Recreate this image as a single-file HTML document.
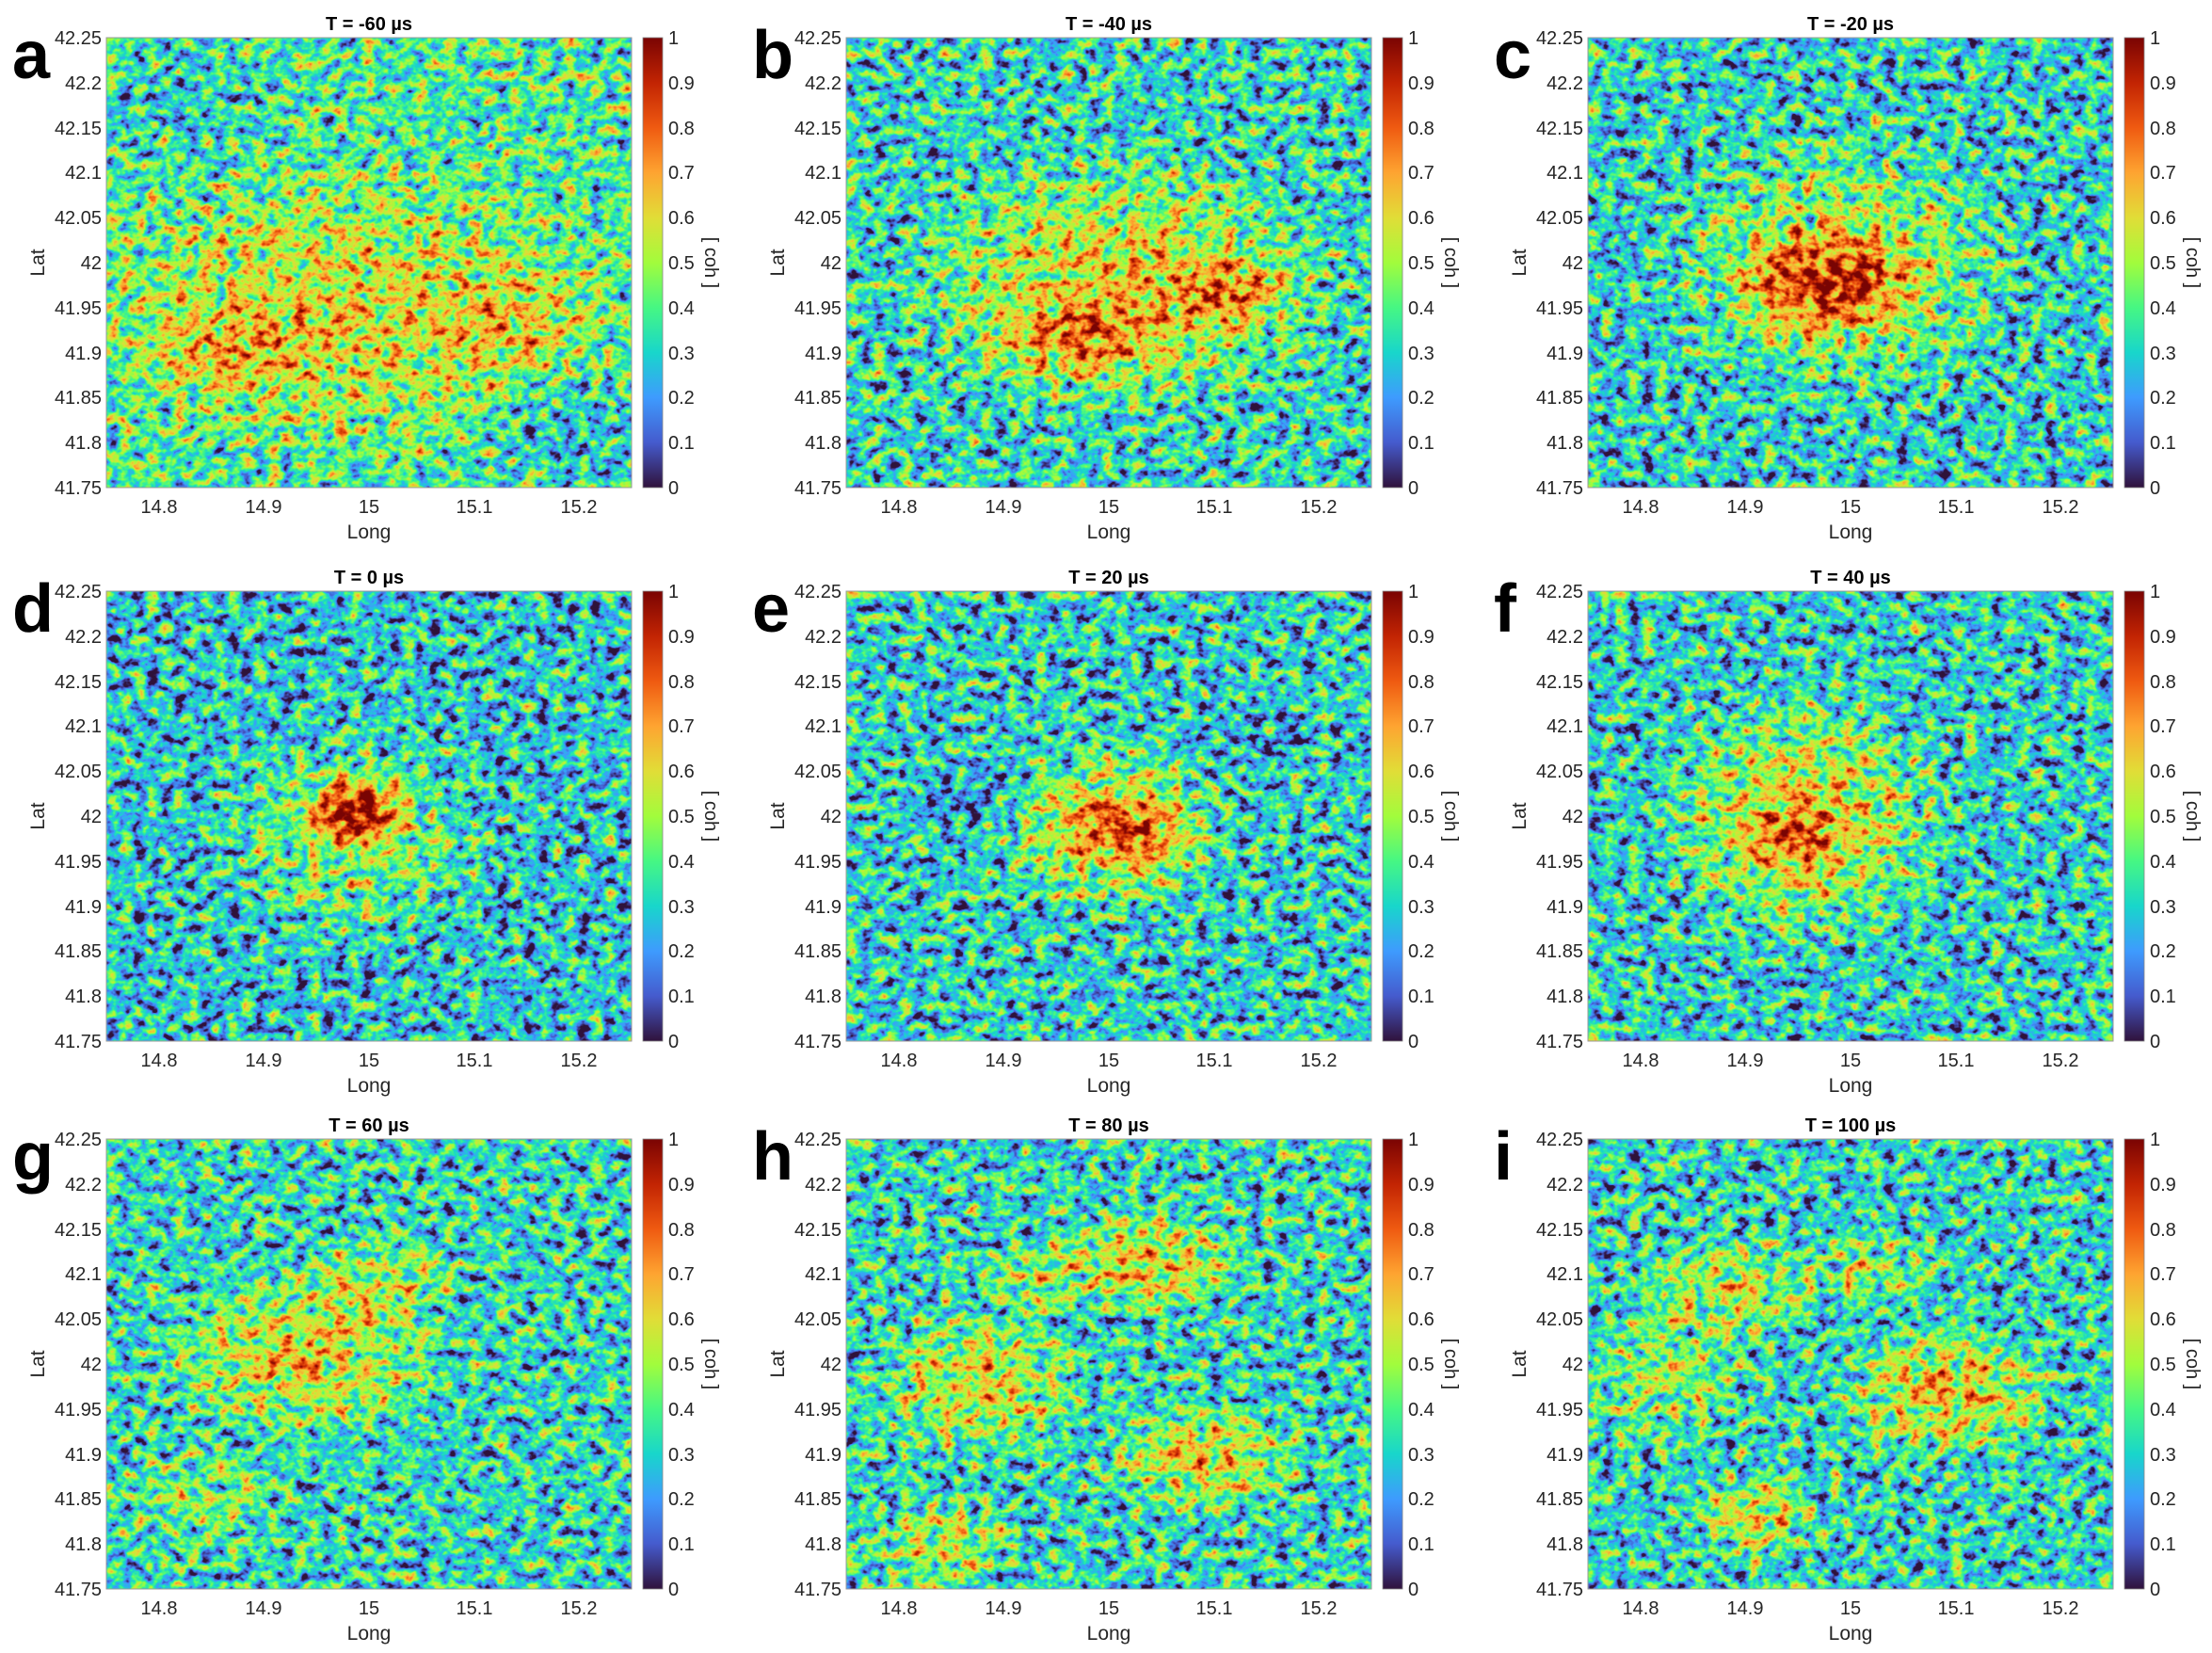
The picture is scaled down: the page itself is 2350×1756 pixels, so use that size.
<!DOCTYPE html>
<html><head><meta charset="utf-8"><style>
html,body{margin:0;padding:0;background:#fff;}
svg{display:block;font-family:"Liberation Sans",Arial,sans-serif;}
.t{font-size:20px;fill:#262626;}
.ti{font-size:20px;font-weight:bold;fill:#000;text-anchor:middle;}
.L{font-size:72px;font-weight:bold;fill:#000;}
.ax{font-size:21px;fill:#262626;text-anchor:middle;}
</style></head><body>
<svg width="2350" height="1756" viewBox="0 0 2350 1756" xmlns="http://www.w3.org/2000/svg">
<defs>
<linearGradient id="cb" x1="0" y1="1" x2="0" y2="0">
<stop offset="0" stop-color="#30123b"/><stop offset="0.1" stop-color="#455bcd"/><stop offset="0.2" stop-color="#3e9bfe"/><stop offset="0.3" stop-color="#18d6cb"/><stop offset="0.4" stop-color="#46f783"/><stop offset="0.5" stop-color="#a2fc3c"/><stop offset="0.6" stop-color="#e1dd37"/><stop offset="0.7" stop-color="#fea431"/><stop offset="0.8" stop-color="#ef5a11"/><stop offset="0.9" stop-color="#c22403"/><stop offset="1" stop-color="#7a0403"/>
</linearGradient>
<radialGradient id="w"><stop offset="0" stop-color="#fff" stop-opacity="1"/><stop offset="0.5" stop-color="#fff" stop-opacity="0.6"/><stop offset="1" stop-color="#fff" stop-opacity="0"/></radialGradient>
<radialGradient id="k"><stop offset="0" stop-color="#000" stop-opacity="1"/><stop offset="0.5" stop-color="#000" stop-opacity="0.6"/><stop offset="1" stop-color="#000" stop-opacity="0"/></radialGradient>
<filter id="f1" filterUnits="userSpaceOnUse" x="0" y="0" width="558" height="478" color-interpolation-filters="sRGB"><feTurbulence type="fractalNoise" baseFrequency="0.07 0.085" numOctaves="3" seed="1" result="n0"/><feColorMatrix in="n0" values="1 0 0 0 0 1 0 0 0 0 1 0 0 0 0 0 0 0 0 1" result="n"/><feComposite in="SourceGraphic" in2="n" operator="arithmetic" k1="0" k2="1" k3="1.2" k4="-0.6"/><feColorMatrix values="1 0 0 0 0 1 0 0 0 0 1 0 0 0 0 0 0 0 0 1"/><feComponentTransfer><feFuncR type="table" tableValues=".188 .271 .243 .094 .275 .635 .882 .996 .937 .761 .478"/><feFuncG type="table" tableValues=".071 .357 .608 .839 .969 .988 .867 .643 .353 .141 .016"/><feFuncB type="table" tableValues=".231 .804 .996 .796 .514 .235 .216 .192 .067 .012 .012"/></feComponentTransfer></filter>
<filter id="f2" filterUnits="userSpaceOnUse" x="0" y="0" width="558" height="478" color-interpolation-filters="sRGB"><feTurbulence type="fractalNoise" baseFrequency="0.07 0.085" numOctaves="3" seed="2" result="n0"/><feColorMatrix in="n0" values="1 0 0 0 0 1 0 0 0 0 1 0 0 0 0 0 0 0 0 1" result="n"/><feComposite in="SourceGraphic" in2="n" operator="arithmetic" k1="0" k2="1" k3="1.2" k4="-0.6"/><feColorMatrix values="1 0 0 0 0 1 0 0 0 0 1 0 0 0 0 0 0 0 0 1"/><feComponentTransfer><feFuncR type="table" tableValues=".188 .271 .243 .094 .275 .635 .882 .996 .937 .761 .478"/><feFuncG type="table" tableValues=".071 .357 .608 .839 .969 .988 .867 .643 .353 .141 .016"/><feFuncB type="table" tableValues=".231 .804 .996 .796 .514 .235 .216 .192 .067 .012 .012"/></feComponentTransfer></filter>
<filter id="f3" filterUnits="userSpaceOnUse" x="0" y="0" width="558" height="478" color-interpolation-filters="sRGB"><feTurbulence type="fractalNoise" baseFrequency="0.07 0.085" numOctaves="3" seed="3" result="n0"/><feColorMatrix in="n0" values="1 0 0 0 0 1 0 0 0 0 1 0 0 0 0 0 0 0 0 1" result="n"/><feComposite in="SourceGraphic" in2="n" operator="arithmetic" k1="0" k2="1" k3="1.2" k4="-0.6"/><feColorMatrix values="1 0 0 0 0 1 0 0 0 0 1 0 0 0 0 0 0 0 0 1"/><feComponentTransfer><feFuncR type="table" tableValues=".188 .271 .243 .094 .275 .635 .882 .996 .937 .761 .478"/><feFuncG type="table" tableValues=".071 .357 .608 .839 .969 .988 .867 .643 .353 .141 .016"/><feFuncB type="table" tableValues=".231 .804 .996 .796 .514 .235 .216 .192 .067 .012 .012"/></feComponentTransfer></filter>
<filter id="f4" filterUnits="userSpaceOnUse" x="0" y="0" width="558" height="478" color-interpolation-filters="sRGB"><feTurbulence type="fractalNoise" baseFrequency="0.07 0.085" numOctaves="3" seed="4" result="n0"/><feColorMatrix in="n0" values="1 0 0 0 0 1 0 0 0 0 1 0 0 0 0 0 0 0 0 1" result="n"/><feComposite in="SourceGraphic" in2="n" operator="arithmetic" k1="0" k2="1" k3="1.2" k4="-0.6"/><feColorMatrix values="1 0 0 0 0 1 0 0 0 0 1 0 0 0 0 0 0 0 0 1"/><feComponentTransfer><feFuncR type="table" tableValues=".188 .271 .243 .094 .275 .635 .882 .996 .937 .761 .478"/><feFuncG type="table" tableValues=".071 .357 .608 .839 .969 .988 .867 .643 .353 .141 .016"/><feFuncB type="table" tableValues=".231 .804 .996 .796 .514 .235 .216 .192 .067 .012 .012"/></feComponentTransfer></filter>
<filter id="f5" filterUnits="userSpaceOnUse" x="0" y="0" width="558" height="478" color-interpolation-filters="sRGB"><feTurbulence type="fractalNoise" baseFrequency="0.07 0.085" numOctaves="3" seed="5" result="n0"/><feColorMatrix in="n0" values="1 0 0 0 0 1 0 0 0 0 1 0 0 0 0 0 0 0 0 1" result="n"/><feComposite in="SourceGraphic" in2="n" operator="arithmetic" k1="0" k2="1" k3="1.2" k4="-0.6"/><feColorMatrix values="1 0 0 0 0 1 0 0 0 0 1 0 0 0 0 0 0 0 0 1"/><feComponentTransfer><feFuncR type="table" tableValues=".188 .271 .243 .094 .275 .635 .882 .996 .937 .761 .478"/><feFuncG type="table" tableValues=".071 .357 .608 .839 .969 .988 .867 .643 .353 .141 .016"/><feFuncB type="table" tableValues=".231 .804 .996 .796 .514 .235 .216 .192 .067 .012 .012"/></feComponentTransfer></filter>
<filter id="f6" filterUnits="userSpaceOnUse" x="0" y="0" width="558" height="478" color-interpolation-filters="sRGB"><feTurbulence type="fractalNoise" baseFrequency="0.07 0.085" numOctaves="3" seed="6" result="n0"/><feColorMatrix in="n0" values="1 0 0 0 0 1 0 0 0 0 1 0 0 0 0 0 0 0 0 1" result="n"/><feComposite in="SourceGraphic" in2="n" operator="arithmetic" k1="0" k2="1" k3="1.2" k4="-0.6"/><feColorMatrix values="1 0 0 0 0 1 0 0 0 0 1 0 0 0 0 0 0 0 0 1"/><feComponentTransfer><feFuncR type="table" tableValues=".188 .271 .243 .094 .275 .635 .882 .996 .937 .761 .478"/><feFuncG type="table" tableValues=".071 .357 .608 .839 .969 .988 .867 .643 .353 .141 .016"/><feFuncB type="table" tableValues=".231 .804 .996 .796 .514 .235 .216 .192 .067 .012 .012"/></feComponentTransfer></filter>
<filter id="f7" filterUnits="userSpaceOnUse" x="0" y="0" width="558" height="478" color-interpolation-filters="sRGB"><feTurbulence type="fractalNoise" baseFrequency="0.07 0.085" numOctaves="3" seed="7" result="n0"/><feColorMatrix in="n0" values="1 0 0 0 0 1 0 0 0 0 1 0 0 0 0 0 0 0 0 1" result="n"/><feComposite in="SourceGraphic" in2="n" operator="arithmetic" k1="0" k2="1" k3="1.2" k4="-0.6"/><feColorMatrix values="1 0 0 0 0 1 0 0 0 0 1 0 0 0 0 0 0 0 0 1"/><feComponentTransfer><feFuncR type="table" tableValues=".188 .271 .243 .094 .275 .635 .882 .996 .937 .761 .478"/><feFuncG type="table" tableValues=".071 .357 .608 .839 .969 .988 .867 .643 .353 .141 .016"/><feFuncB type="table" tableValues=".231 .804 .996 .796 .514 .235 .216 .192 .067 .012 .012"/></feComponentTransfer></filter>
<filter id="f8" filterUnits="userSpaceOnUse" x="0" y="0" width="558" height="478" color-interpolation-filters="sRGB"><feTurbulence type="fractalNoise" baseFrequency="0.07 0.085" numOctaves="3" seed="8" result="n0"/><feColorMatrix in="n0" values="1 0 0 0 0 1 0 0 0 0 1 0 0 0 0 0 0 0 0 1" result="n"/><feComposite in="SourceGraphic" in2="n" operator="arithmetic" k1="0" k2="1" k3="1.2" k4="-0.6"/><feColorMatrix values="1 0 0 0 0 1 0 0 0 0 1 0 0 0 0 0 0 0 0 1"/><feComponentTransfer><feFuncR type="table" tableValues=".188 .271 .243 .094 .275 .635 .882 .996 .937 .761 .478"/><feFuncG type="table" tableValues=".071 .357 .608 .839 .969 .988 .867 .643 .353 .141 .016"/><feFuncB type="table" tableValues=".231 .804 .996 .796 .514 .235 .216 .192 .067 .012 .012"/></feComponentTransfer></filter>
<filter id="f9" filterUnits="userSpaceOnUse" x="0" y="0" width="558" height="478" color-interpolation-filters="sRGB"><feTurbulence type="fractalNoise" baseFrequency="0.07 0.085" numOctaves="3" seed="9" result="n0"/><feColorMatrix in="n0" values="1 0 0 0 0 1 0 0 0 0 1 0 0 0 0 0 0 0 0 1" result="n"/><feComposite in="SourceGraphic" in2="n" operator="arithmetic" k1="0" k2="1" k3="1.2" k4="-0.6"/><feColorMatrix values="1 0 0 0 0 1 0 0 0 0 1 0 0 0 0 0 0 0 0 1"/><feComponentTransfer><feFuncR type="table" tableValues=".188 .271 .243 .094 .275 .635 .882 .996 .937 .761 .478"/><feFuncG type="table" tableValues=".071 .357 .608 .839 .969 .988 .867 .643 .353 .141 .016"/><feFuncB type="table" tableValues=".231 .804 .996 .796 .514 .235 .216 .192 .067 .012 .012"/></feComponentTransfer></filter>
</defs>

<!-- panel a -->
<g transform="translate(113,40)">
<g filter="url(#f1)"><rect width="558" height="478" fill="rgb(97,97,97)"/>
<ellipse cx="250" cy="290" rx="320" ry="170" fill="url(#w)" fill-opacity="0.4"/>
<ellipse cx="130" cy="330" rx="110" ry="60" fill="url(#w)" fill-opacity="0.35"/>
<ellipse cx="430" cy="300" rx="110" ry="70" fill="url(#w)" fill-opacity="0.3"/>
<ellipse cx="80" cy="60" rx="140" ry="90" fill="url(#k)" fill-opacity="0.3"/>
<ellipse cx="500" cy="430" rx="130" ry="90" fill="url(#k)" fill-opacity="0.35"/></g>
<rect width="558" height="478" fill="none" stroke="#999" stroke-width="1"/>
<rect x="570" width="21" height="478" fill="url(#cb)" stroke="#888" stroke-width="0.8"/>
<text class="L" x="-100" y="43">a</text>
<text class="ti" x="279" y="-8">T = -60 µs</text>
<g class="t" text-anchor="end"><text x="-5" y="7">42.25</text><text x="-5" y="55">42.2</text><text x="-5" y="103">42.15</text><text x="-5" y="150">42.1</text><text x="-5" y="198">42.05</text><text x="-5" y="246">42</text><text x="-5" y="294">41.95</text><text x="-5" y="342">41.9</text><text x="-5" y="389">41.85</text><text x="-5" y="437">41.8</text><text x="-5" y="485">41.75</text></g>
<g class="t" text-anchor="middle"><text x="56" y="505">14.8</text><text x="167" y="505">14.9</text><text x="279" y="505">15</text><text x="391" y="505">15.1</text><text x="502" y="505">15.2</text></g>
<g class="t"><text x="597" y="7">1</text><text x="597" y="55">0.9</text><text x="597" y="103">0.8</text><text x="597" y="150">0.7</text><text x="597" y="198">0.6</text><text x="597" y="246">0.5</text><text x="597" y="294">0.4</text><text x="597" y="342">0.3</text><text x="597" y="389">0.2</text><text x="597" y="437">0.1</text><text x="597" y="485">0</text></g>
<text class="ax" x="279" y="532">Long</text>
<text class="ax" transform="translate(-66,239) rotate(-90)">Lat</text>
<text class="t" text-anchor="middle" transform="translate(636,239) rotate(90)">[ coh ]</text>
</g>

<!-- panel b -->
<g transform="translate(899,40)">
<g filter="url(#f2)"><rect width="558" height="478" fill="rgb(79,79,79)"/>
<ellipse cx="290" cy="260" rx="250" ry="150" fill="url(#w)" fill-opacity="0.5"/>
<ellipse cx="250" cy="320" rx="120" ry="55" fill="url(#w)" fill-opacity="0.55"/>
<ellipse cx="400" cy="270" rx="90" ry="50" fill="url(#w)" fill-opacity="0.55"/></g>
<rect width="558" height="478" fill="none" stroke="#999" stroke-width="1"/>
<rect x="570" width="21" height="478" fill="url(#cb)" stroke="#888" stroke-width="0.8"/>
<text class="L" x="-100" y="43">b</text>
<text class="ti" x="279" y="-8">T = -40 µs</text>
<g class="t" text-anchor="end"><text x="-5" y="7">42.25</text><text x="-5" y="55">42.2</text><text x="-5" y="103">42.15</text><text x="-5" y="150">42.1</text><text x="-5" y="198">42.05</text><text x="-5" y="246">42</text><text x="-5" y="294">41.95</text><text x="-5" y="342">41.9</text><text x="-5" y="389">41.85</text><text x="-5" y="437">41.8</text><text x="-5" y="485">41.75</text></g>
<g class="t" text-anchor="middle"><text x="56" y="505">14.8</text><text x="167" y="505">14.9</text><text x="279" y="505">15</text><text x="391" y="505">15.1</text><text x="502" y="505">15.2</text></g>
<g class="t"><text x="597" y="7">1</text><text x="597" y="55">0.9</text><text x="597" y="103">0.8</text><text x="597" y="150">0.7</text><text x="597" y="198">0.6</text><text x="597" y="246">0.5</text><text x="597" y="294">0.4</text><text x="597" y="342">0.3</text><text x="597" y="389">0.2</text><text x="597" y="437">0.1</text><text x="597" y="485">0</text></g>
<text class="ax" x="279" y="532">Long</text>
<text class="ax" transform="translate(-66,239) rotate(-90)">Lat</text>
<text class="t" text-anchor="middle" transform="translate(636,239) rotate(90)">[ coh ]</text>
</g>

<!-- panel c -->
<g transform="translate(1687,40)">
<g filter="url(#f3)"><rect width="558" height="478" fill="rgb(74,74,74)"/>
<ellipse cx="270" cy="240" rx="210" ry="160" fill="url(#w)" fill-opacity="0.4"/>
<ellipse cx="255" cy="260" rx="115" ry="70" fill="url(#w)" fill-opacity="0.9"/></g>
<rect width="558" height="478" fill="none" stroke="#999" stroke-width="1"/>
<rect x="570" width="21" height="478" fill="url(#cb)" stroke="#888" stroke-width="0.8"/>
<text class="L" x="-100" y="43">c</text>
<text class="ti" x="279" y="-8">T = -20 µs</text>
<g class="t" text-anchor="end"><text x="-5" y="7">42.25</text><text x="-5" y="55">42.2</text><text x="-5" y="103">42.15</text><text x="-5" y="150">42.1</text><text x="-5" y="198">42.05</text><text x="-5" y="246">42</text><text x="-5" y="294">41.95</text><text x="-5" y="342">41.9</text><text x="-5" y="389">41.85</text><text x="-5" y="437">41.8</text><text x="-5" y="485">41.75</text></g>
<g class="t" text-anchor="middle"><text x="56" y="505">14.8</text><text x="167" y="505">14.9</text><text x="279" y="505">15</text><text x="391" y="505">15.1</text><text x="502" y="505">15.2</text></g>
<g class="t"><text x="597" y="7">1</text><text x="597" y="55">0.9</text><text x="597" y="103">0.8</text><text x="597" y="150">0.7</text><text x="597" y="198">0.6</text><text x="597" y="246">0.5</text><text x="597" y="294">0.4</text><text x="597" y="342">0.3</text><text x="597" y="389">0.2</text><text x="597" y="437">0.1</text><text x="597" y="485">0</text></g>
<text class="ax" x="279" y="532">Long</text>
<text class="ax" transform="translate(-66,239) rotate(-90)">Lat</text>
<text class="t" text-anchor="middle" transform="translate(636,239) rotate(90)">[ coh ]</text>
</g>

<!-- panel d -->
<g transform="translate(113,628)">
<g filter="url(#f4)"><rect width="558" height="478" fill="rgb(69,69,69)"/>
<ellipse cx="260" cy="260" rx="160" ry="130" fill="url(#w)" fill-opacity="0.35"/>
<ellipse cx="265" cy="235" rx="65" ry="45" fill="url(#w)" fill-opacity="1"/></g>
<rect width="558" height="478" fill="none" stroke="#999" stroke-width="1"/>
<rect x="570" width="21" height="478" fill="url(#cb)" stroke="#888" stroke-width="0.8"/>
<text class="L" x="-100" y="43">d</text>
<text class="ti" x="279" y="-8">T = 0 µs</text>
<g class="t" text-anchor="end"><text x="-5" y="7">42.25</text><text x="-5" y="55">42.2</text><text x="-5" y="103">42.15</text><text x="-5" y="150">42.1</text><text x="-5" y="198">42.05</text><text x="-5" y="246">42</text><text x="-5" y="294">41.95</text><text x="-5" y="342">41.9</text><text x="-5" y="389">41.85</text><text x="-5" y="437">41.8</text><text x="-5" y="485">41.75</text></g>
<g class="t" text-anchor="middle"><text x="56" y="505">14.8</text><text x="167" y="505">14.9</text><text x="279" y="505">15</text><text x="391" y="505">15.1</text><text x="502" y="505">15.2</text></g>
<g class="t"><text x="597" y="7">1</text><text x="597" y="55">0.9</text><text x="597" y="103">0.8</text><text x="597" y="150">0.7</text><text x="597" y="198">0.6</text><text x="597" y="246">0.5</text><text x="597" y="294">0.4</text><text x="597" y="342">0.3</text><text x="597" y="389">0.2</text><text x="597" y="437">0.1</text><text x="597" y="485">0</text></g>
<text class="ax" x="279" y="532">Long</text>
<text class="ax" transform="translate(-66,239) rotate(-90)">Lat</text>
<text class="t" text-anchor="middle" transform="translate(636,239) rotate(90)">[ coh ]</text>
</g>

<!-- panel e -->
<g transform="translate(899,628)">
<g filter="url(#f5)"><rect width="558" height="478" fill="rgb(74,74,74)"/>
<ellipse cx="280" cy="250" rx="140" ry="100" fill="url(#w)" fill-opacity="0.55"/>
<ellipse cx="300" cy="255" rx="70" ry="45" fill="url(#w)" fill-opacity="0.65"/>
<ellipse cx="130" cy="220" rx="80" ry="45" fill="url(#k)" fill-opacity="0.45"/>
<ellipse cx="440" cy="150" rx="70" ry="45" fill="url(#k)" fill-opacity="0.35"/></g>
<rect width="558" height="478" fill="none" stroke="#999" stroke-width="1"/>
<rect x="570" width="21" height="478" fill="url(#cb)" stroke="#888" stroke-width="0.8"/>
<text class="L" x="-100" y="43">e</text>
<text class="ti" x="279" y="-8">T = 20 µs</text>
<g class="t" text-anchor="end"><text x="-5" y="7">42.25</text><text x="-5" y="55">42.2</text><text x="-5" y="103">42.15</text><text x="-5" y="150">42.1</text><text x="-5" y="198">42.05</text><text x="-5" y="246">42</text><text x="-5" y="294">41.95</text><text x="-5" y="342">41.9</text><text x="-5" y="389">41.85</text><text x="-5" y="437">41.8</text><text x="-5" y="485">41.75</text></g>
<g class="t" text-anchor="middle"><text x="56" y="505">14.8</text><text x="167" y="505">14.9</text><text x="279" y="505">15</text><text x="391" y="505">15.1</text><text x="502" y="505">15.2</text></g>
<g class="t"><text x="597" y="7">1</text><text x="597" y="55">0.9</text><text x="597" y="103">0.8</text><text x="597" y="150">0.7</text><text x="597" y="198">0.6</text><text x="597" y="246">0.5</text><text x="597" y="294">0.4</text><text x="597" y="342">0.3</text><text x="597" y="389">0.2</text><text x="597" y="437">0.1</text><text x="597" y="485">0</text></g>
<text class="ax" x="279" y="532">Long</text>
<text class="ax" transform="translate(-66,239) rotate(-90)">Lat</text>
<text class="t" text-anchor="middle" transform="translate(636,239) rotate(90)">[ coh ]</text>
</g>

<!-- panel f -->
<g transform="translate(1687,628)">
<g filter="url(#f6)"><rect width="558" height="478" fill="rgb(74,74,74)"/>
<ellipse cx="230" cy="240" rx="170" ry="150" fill="url(#w)" fill-opacity="0.5"/>
<ellipse cx="220" cy="260" rx="70" ry="55" fill="url(#w)" fill-opacity="0.55"/></g>
<rect width="558" height="478" fill="none" stroke="#999" stroke-width="1"/>
<rect x="570" width="21" height="478" fill="url(#cb)" stroke="#888" stroke-width="0.8"/>
<text class="L" x="-100" y="43">f</text>
<text class="ti" x="279" y="-8">T = 40 µs</text>
<g class="t" text-anchor="end"><text x="-5" y="7">42.25</text><text x="-5" y="55">42.2</text><text x="-5" y="103">42.15</text><text x="-5" y="150">42.1</text><text x="-5" y="198">42.05</text><text x="-5" y="246">42</text><text x="-5" y="294">41.95</text><text x="-5" y="342">41.9</text><text x="-5" y="389">41.85</text><text x="-5" y="437">41.8</text><text x="-5" y="485">41.75</text></g>
<g class="t" text-anchor="middle"><text x="56" y="505">14.8</text><text x="167" y="505">14.9</text><text x="279" y="505">15</text><text x="391" y="505">15.1</text><text x="502" y="505">15.2</text></g>
<g class="t"><text x="597" y="7">1</text><text x="597" y="55">0.9</text><text x="597" y="103">0.8</text><text x="597" y="150">0.7</text><text x="597" y="198">0.6</text><text x="597" y="246">0.5</text><text x="597" y="294">0.4</text><text x="597" y="342">0.3</text><text x="597" y="389">0.2</text><text x="597" y="437">0.1</text><text x="597" y="485">0</text></g>
<text class="ax" x="279" y="532">Long</text>
<text class="ax" transform="translate(-66,239) rotate(-90)">Lat</text>
<text class="t" text-anchor="middle" transform="translate(636,239) rotate(90)">[ coh ]</text>
</g>

<!-- panel g -->
<g transform="translate(113,1210)">
<g filter="url(#f7)"><rect width="558" height="478" fill="rgb(79,79,79)"/>
<ellipse cx="210" cy="230" rx="170" ry="100" fill="url(#w)" fill-opacity="0.5"/>
<ellipse cx="290" cy="150" rx="100" ry="55" fill="url(#w)" fill-opacity="0.35"/>
<ellipse cx="100" cy="380" rx="110" ry="65" fill="url(#w)" fill-opacity="0.25"/></g>
<rect width="558" height="478" fill="none" stroke="#999" stroke-width="1"/>
<rect x="570" width="21" height="478" fill="url(#cb)" stroke="#888" stroke-width="0.8"/>
<text class="L" x="-100" y="43">g</text>
<text class="ti" x="279" y="-8">T = 60 µs</text>
<g class="t" text-anchor="end"><text x="-5" y="7">42.25</text><text x="-5" y="55">42.2</text><text x="-5" y="103">42.15</text><text x="-5" y="150">42.1</text><text x="-5" y="198">42.05</text><text x="-5" y="246">42</text><text x="-5" y="294">41.95</text><text x="-5" y="342">41.9</text><text x="-5" y="389">41.85</text><text x="-5" y="437">41.8</text><text x="-5" y="485">41.75</text></g>
<g class="t" text-anchor="middle"><text x="56" y="505">14.8</text><text x="167" y="505">14.9</text><text x="279" y="505">15</text><text x="391" y="505">15.1</text><text x="502" y="505">15.2</text></g>
<g class="t"><text x="597" y="7">1</text><text x="597" y="55">0.9</text><text x="597" y="103">0.8</text><text x="597" y="150">0.7</text><text x="597" y="198">0.6</text><text x="597" y="246">0.5</text><text x="597" y="294">0.4</text><text x="597" y="342">0.3</text><text x="597" y="389">0.2</text><text x="597" y="437">0.1</text><text x="597" y="485">0</text></g>
<text class="ax" x="279" y="532">Long</text>
<text class="ax" transform="translate(-66,239) rotate(-90)">Lat</text>
<text class="t" text-anchor="middle" transform="translate(636,239) rotate(90)">[ coh ]</text>
</g>

<!-- panel h -->
<g transform="translate(899,1210)">
<g filter="url(#f8)"><rect width="558" height="478" fill="rgb(79,79,79)"/>
<ellipse cx="320" cy="130" rx="120" ry="65" fill="url(#w)" fill-opacity="0.5"/>
<ellipse cx="140" cy="260" rx="130" ry="90" fill="url(#w)" fill-opacity="0.45"/>
<ellipse cx="380" cy="340" rx="120" ry="65" fill="url(#w)" fill-opacity="0.5"/>
<ellipse cx="100" cy="430" rx="90" ry="55" fill="url(#w)" fill-opacity="0.4"/>
<ellipse cx="200" cy="150" rx="80" ry="45" fill="url(#w)" fill-opacity="0.3"/></g>
<rect width="558" height="478" fill="none" stroke="#999" stroke-width="1"/>
<rect x="570" width="21" height="478" fill="url(#cb)" stroke="#888" stroke-width="0.8"/>
<text class="L" x="-100" y="43">h</text>
<text class="ti" x="279" y="-8">T = 80 µs</text>
<g class="t" text-anchor="end"><text x="-5" y="7">42.25</text><text x="-5" y="55">42.2</text><text x="-5" y="103">42.15</text><text x="-5" y="150">42.1</text><text x="-5" y="198">42.05</text><text x="-5" y="246">42</text><text x="-5" y="294">41.95</text><text x="-5" y="342">41.9</text><text x="-5" y="389">41.85</text><text x="-5" y="437">41.8</text><text x="-5" y="485">41.75</text></g>
<g class="t" text-anchor="middle"><text x="56" y="505">14.8</text><text x="167" y="505">14.9</text><text x="279" y="505">15</text><text x="391" y="505">15.1</text><text x="502" y="505">15.2</text></g>
<g class="t"><text x="597" y="7">1</text><text x="597" y="55">0.9</text><text x="597" y="103">0.8</text><text x="597" y="150">0.7</text><text x="597" y="198">0.6</text><text x="597" y="246">0.5</text><text x="597" y="294">0.4</text><text x="597" y="342">0.3</text><text x="597" y="389">0.2</text><text x="597" y="437">0.1</text><text x="597" y="485">0</text></g>
<text class="ax" x="279" y="532">Long</text>
<text class="ax" transform="translate(-66,239) rotate(-90)">Lat</text>
<text class="t" text-anchor="middle" transform="translate(636,239) rotate(90)">[ coh ]</text>
</g>

<!-- panel i -->
<g transform="translate(1687,1210)">
<g filter="url(#f9)"><rect width="558" height="478" fill="rgb(77,77,77)"/>
<ellipse cx="380" cy="270" rx="130" ry="80" fill="url(#w)" fill-opacity="0.55"/>
<ellipse cx="150" cy="160" rx="110" ry="65" fill="url(#w)" fill-opacity="0.4"/>
<ellipse cx="180" cy="400" rx="80" ry="55" fill="url(#w)" fill-opacity="0.45"/>
<ellipse cx="80" cy="250" rx="110" ry="90" fill="url(#w)" fill-opacity="0.3"/>
<ellipse cx="300" cy="140" rx="90" ry="45" fill="url(#w)" fill-opacity="0.3"/></g>
<rect width="558" height="478" fill="none" stroke="#999" stroke-width="1"/>
<rect x="570" width="21" height="478" fill="url(#cb)" stroke="#888" stroke-width="0.8"/>
<text class="L" x="-100" y="43">i</text>
<text class="ti" x="279" y="-8">T = 100 µs</text>
<g class="t" text-anchor="end"><text x="-5" y="7">42.25</text><text x="-5" y="55">42.2</text><text x="-5" y="103">42.15</text><text x="-5" y="150">42.1</text><text x="-5" y="198">42.05</text><text x="-5" y="246">42</text><text x="-5" y="294">41.95</text><text x="-5" y="342">41.9</text><text x="-5" y="389">41.85</text><text x="-5" y="437">41.8</text><text x="-5" y="485">41.75</text></g>
<g class="t" text-anchor="middle"><text x="56" y="505">14.8</text><text x="167" y="505">14.9</text><text x="279" y="505">15</text><text x="391" y="505">15.1</text><text x="502" y="505">15.2</text></g>
<g class="t"><text x="597" y="7">1</text><text x="597" y="55">0.9</text><text x="597" y="103">0.8</text><text x="597" y="150">0.7</text><text x="597" y="198">0.6</text><text x="597" y="246">0.5</text><text x="597" y="294">0.4</text><text x="597" y="342">0.3</text><text x="597" y="389">0.2</text><text x="597" y="437">0.1</text><text x="597" y="485">0</text></g>
<text class="ax" x="279" y="532">Long</text>
<text class="ax" transform="translate(-66,239) rotate(-90)">Lat</text>
<text class="t" text-anchor="middle" transform="translate(636,239) rotate(90)">[ coh ]</text>
</g>
</svg>
</body></html>
